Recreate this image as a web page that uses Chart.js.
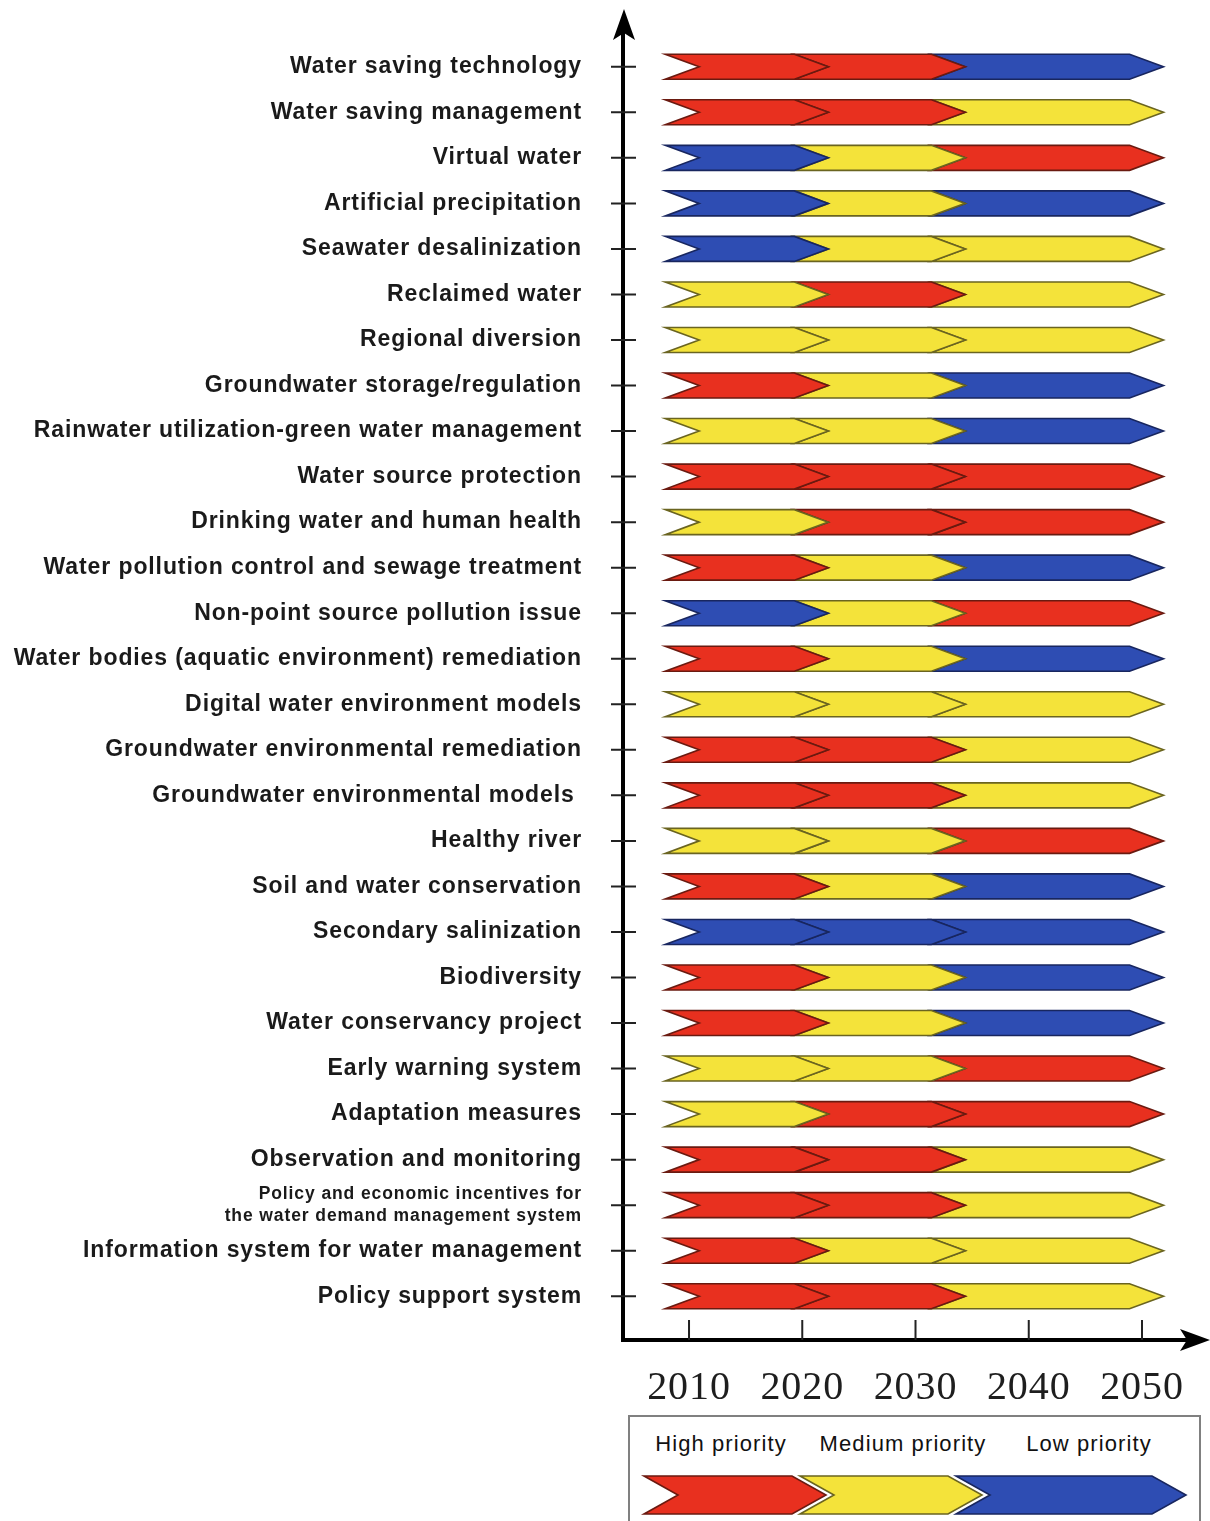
<!DOCTYPE html>
<html>
<head>
<meta charset="utf-8">
<script src="https://cdn.jsdelivr.net/npm/chart.js@4.4.1/dist/chart.umd.min.js"></script>
<style>
  body { margin: 0; background: #fff; width: 1210px; height: 1521px; position: relative; overflow: hidden;
         font-family: "Liberation Sans", Arial, sans-serif; }
  #main { position: absolute; left: 0; top: 0; }
  #legendBox { position: absolute; left: 628px; top: 1415px; width: 573px; height: 120px;
               border: 2px solid #808080; box-sizing: border-box; }
  #legendBox span { position: absolute; top: 14px; font-size: 22px; letter-spacing: 1.1px; color: #111;
                    transform: translateX(-50%); white-space: nowrap; }
  #legendChart { position: absolute; left: -2px; top: 53px; }
</style>
</head>
<body>
<canvas id="main" width="1210" height="1410"></canvas>
<div id="legendBox">
  <span style="left:91px">High priority</span>
  <span style="left:273px">Medium priority</span>
  <span style="left:459px">Low priority</span>
  <canvas id="legendChart" width="573" height="50"></canvas>
</div>
<script>
// rows, top to bottom
var categories = [
  'Water saving technology', 'Water saving management', 'Virtual water', 'Artificial precipitation',
  'Seawater desalinization', 'Reclaimed water', 'Regional diversion', 'Groundwater storage/regulation',
  'Rainwater utilization-green water management', 'Water source protection', 'Drinking water and human health',
  'Water pollution control and sewage treatment', 'Non-point source pollution issue',
  'Water bodies (aquatic environment) remediation', 'Digital water environment models',
  'Groundwater environmental remediation', 'Groundwater environmental models ', 'Healthy river',
  'Soil and water conservation', 'Secondary salinization', 'Biodiversity', 'Water conservancy project',
  'Early warning system', 'Adaptation measures', 'Observation and monitoring',
  ['Policy and economic incentives for', 'the water demand management system'],
  'Information system for water management', 'Policy support system'
];

// priority per period: H = high, M = medium, L = low
var period1 = ['H','H','L','L','L','M','M','H','M','H','M','H','L','H','M','H','H','M','H','L','H','H','M','M','H','H','H','H'];
var period2 = ['H','H','M','M','M','H','M','M','M','H','H','M','M','M','M','H','H','M','M','L','M','M','M','H','H','H','M','H'];
var period3 = ['L','M','H','L','M','M','M','L','L','H','H','L','H','L','M','M','M','H','L','L','L','L','H','H','M','M','M','M'];

// period spans in years
var periodStart = [2007.9, 2019.3, 2031.4];
var periodEnd = [2019.3, 2031.4, 2048.9];
var xTicks = [2010, 2020, 2030, 2040, 2050];

// legend
var legendNames = ['High priority', 'Medium priority', 'Low priority'];
var legendKeys = ['H', 'M', 'L'];
var legendStart = [16, 172, 328];
var legendEnd = [164, 320, 524];

var fills = {H: '#E8301F', M: '#F4E33A', L: '#2E4DB3'};
var edges = {H: '#6a1a10', M: '#6a6420', L: '#18265f'};

var NOTCH = 3;          // depth of the chevron point, in x units
var X_AXIS_GAP = 21;    // x axis line sits below the last row

/*
    Draws each bar element as a chevron instead of a box
*/
function makeChevronPlugin(depth, lineW)
{
    return {
        id: 'chevrons',
        beforeDatasetDraw: function(chart, args)
        {
            var ctx = chart.ctx;
            var ds = chart.data.datasets[args.index];
            var xs = chart.scales.x;
            var d = xs.getPixelForValue(xs.min + depth) - xs.getPixelForValue(xs.min);
            ctx.save();
            args.meta.data.forEach(function(bar, i) {
                var p = bar.getProps(['x', 'y', 'base', 'height'], true);
                var x0 = Math.min(p.base, p.x), x1 = Math.max(p.base, p.x);
                var top = p.y - p.height / 2, bot = p.y + p.height / 2;
                ctx.beginPath();
                ctx.moveTo(x0, top);
                ctx.lineTo(x1, top);
                ctx.lineTo(x1 + d, p.y);
                ctx.lineTo(x1, bot);
                ctx.lineTo(x0, bot);
                ctx.lineTo(x0 + d, p.y);
                ctx.closePath();
                ctx.fillStyle = ds.backgroundColor[i];
                ctx.fill();
                ctx.lineJoin = 'miter';
                ctx.lineWidth = lineW;
                ctx.strokeStyle = ds.borderColor[i];
                ctx.stroke();
            });
            ctx.restore();
            return false;
        }
    };
}

// axis lines with arrows and the tick marks
var axesPlugin = {
    id: 'axesDecor',
    beforeDraw: function(chart) { chart.ctx.letterSpacing = '0.9px'; },
    afterDraw: function(chart)
    {
        var ctx = chart.ctx, a = chart.chartArea;
        var ys = chart.scales.y, xs = chart.scales.x;
        var ax = a.left, ay = a.bottom + X_AXIS_GAP;
        ctx.save();
        ctx.strokeStyle = '#000';
        ctx.fillStyle = '#000';
        ctx.lineWidth = 4;
        ctx.beginPath();
        ctx.moveTo(ax, ay + 2);
        ctx.lineTo(ax, 30);
        ctx.moveTo(ax - 2, ay);
        ctx.lineTo(1190, ay);
        ctx.stroke();
        // arrow heads
        ctx.beginPath();
        ctx.moveTo(ax + 1, 9);
        ctx.lineTo(ax + 12, 40);
        ctx.lineTo(ax + 1, 33);
        ctx.lineTo(ax - 10, 40);
        ctx.closePath();
        ctx.fill();
        ctx.beginPath();
        ctx.moveTo(1210, ay);
        ctx.lineTo(1180, ay - 11);
        ctx.lineTo(1187, ay);
        ctx.lineTo(1180, ay + 11);
        ctx.closePath();
        ctx.fill();
        // y ticks cross the axis
        ctx.lineWidth = 2.5;
        ctx.strokeStyle = '#222';
        ctx.beginPath();
        ys.ticks.forEach(function(t, i) {
            var y = ys.getPixelForTick(i);
            ctx.moveTo(ax - 12, y);
            ctx.lineTo(ax + 13, y);
        });
        // x ticks stand on the axis
        xs.ticks.forEach(function(t) {
            var x = xs.getPixelForValue(t.value);
            ctx.moveTo(x, ay - 20);
            ctx.lineTo(x, ay);
        });
        ctx.lineWidth = 2;
        ctx.stroke();
        ctx.restore();
    }
};

var periods = [period1, period2, period3];
var datasets = periods.map(function(pr, k) {
    return {
        label: 'period ' + (k + 1),
        data: categories.map(function() { return [periodStart[k], periodEnd[k]]; }),
        backgroundColor: pr.map(function(p) { return fills[p]; }),
        borderColor: pr.map(function(p) { return edges[p]; }),
        barThickness: 25,
        grouped: false
    };
});

new Chart(document.getElementById('main'), {
    type: 'bar',
    data: { labels: categories, datasets: datasets },
    options: {
        indexAxis: 'y',
        responsive: false,
        animation: false,
        layout: { padding: { top: 44, right: 15, left: 0, bottom: 0 } },
        plugins: { legend: { display: false }, tooltip: { enabled: false } },
        scales: {
            y: {
                type: 'category',
                offset: true,
                grid: { display: false, drawTicks: false },
                border: { display: false },
                afterFit: function(scale) {
                    scale.width = 623;
                    scale.paddingTop = 0;
                    scale.paddingBottom = 0;
                },
                ticks: {
                    autoSkip: false,
                    padding: 41,
                    color: '#1a1a1a',
                    font: function(c) {
                        return Array.isArray(categories[c.index])
                            ? { family: '"Liberation Sans", Arial, sans-serif', size: 17.5, weight: 'bold', lineHeight: 1.25 }
                            : { family: '"Liberation Sans", Arial, sans-serif', size: 23, weight: 'bold' };
                    }
                }
            },
            x: {
                type: 'linear',
                min: 2004.17,
                max: 2054.68,
                grid: { display: false, drawTicks: false },
                border: { display: false },
                afterFit: function(scale) {
                    scale.height = 91;
                    scale.paddingLeft = 0;
                    scale.paddingRight = 0;
                },
                afterBuildTicks: function(scale) {
                    scale.ticks = xTicks.map(function(v) { return { value: v }; });
                },
                ticks: {
                    maxRotation: 0,
                    padding: 45,
                    color: '#1e1e1e',
                    font: { family: '"Liberation Serif", "Times New Roman", serif', size: 40 },
                    callback: function(v) { return String(v); }
                }
            }
        }
    },
    plugins: [makeChevronPlugin(NOTCH, 1.6), axesPlugin]
});

// legend arrows, same chevron drawing
new Chart(document.getElementById('legendChart'), {
    type: 'bar',
    data: {
        labels: ['legend'],
        datasets: legendKeys.map(function(k, i) {
            return {
                label: legendNames[i],
                data: [[legendStart[i], legendEnd[i]]],
                backgroundColor: [fills[k]],
                borderColor: [edges[k]],
                barThickness: 38,
                grouped: false
            };
        })
    },
    options: {
        indexAxis: 'y',
        responsive: false,
        animation: false,
        layout: { padding: 0 },
        plugins: { legend: { display: false }, tooltip: { enabled: false } },
        scales: {
            x: { type: 'linear', min: 0, max: 573, display: false },
            y: { type: 'category', display: false }
        }
    },
    plugins: [makeChevronPlugin(34, 1.6)]
});
</script>
</body>
</html>
